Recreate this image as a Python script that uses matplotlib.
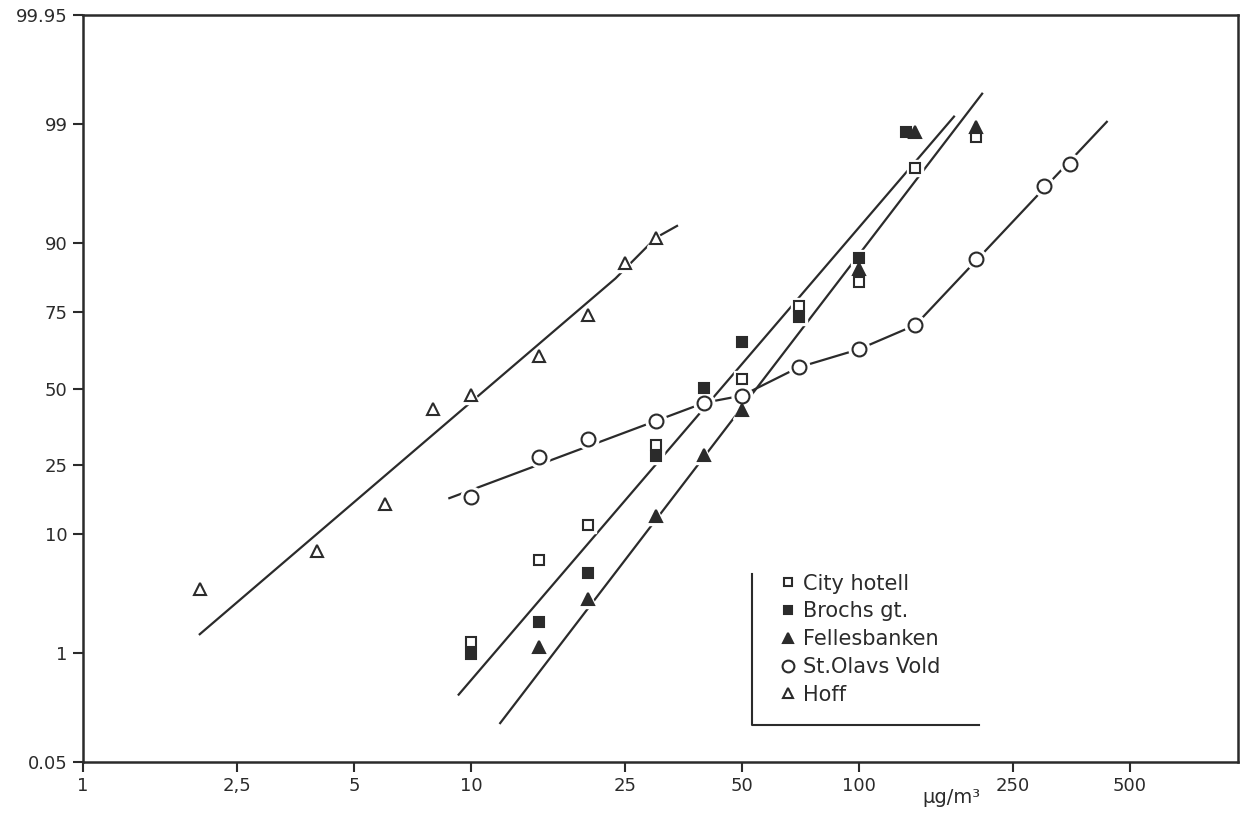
import math
from statistics import NormalDist
import numpy as np
import matplotlib
matplotlib.use("Agg")
import matplotlib.pyplot as plt

# values: concentration (ug/m3) and cumulative frequency (%)
city_x = [10, 15, 20, 30, 50, 70, 100, 140, 200]
city_p = [1.27, 6.5, 11.5, 30.9, 53.3, 76.6, 82.7, 97.4, 98.65]
brochs_x = [10, 15, 20, 30, 40, 50, 70, 100, 132]
brochs_p = [0.97, 2.0, 5.2, 27.6, 50.1, 65.8, 73.5, 87.4, 98.8]
felles_x = [15, 20, 30, 40, 50, 100, 140, 200]
felles_p = [1.15, 3.2, 13.1, 27.9, 42.5, 85.3, 98.8, 98.94]
olav_x = [10, 15, 20, 30, 40, 50, 70, 100, 140, 200, 300, 350]
olav_p = [17.0, 27.4, 32.7, 38.6, 45.0, 47.4, 57.4, 63.5, 71.2, 87.3, 96.3, 97.6]
hoff_x = [2, 4, 6, 8, 10, 15, 20, 25, 30]
hoff_p = [3.85, 7.6, 15.4, 42.8, 47.7, 61.3, 74.1, 86.5, 90.8]

# hand drawn fit lines
city_line_x = [9.3, 176]
city_line_p = [0.35, 99.17]
felles_line_x = [11.9, 208]
felles_line_p = [0.16, 99.53]
olav_line_x = [8.8, 40, 50, 70, 100, 140, 436]
olav_line_p = [16.7, 45.0, 47.5, 57.4, 63.5, 71.2, 99.06]
hoff_line_x = [2.0, 23.6, 30, 34]
hoff_line_p = [1.52, 83.4, 90.8, 92.4]

x_ticks = [1, 2.5, 5, 10, 25, 50, 100, 250, 500]
x_labels = ["1", "2,5", "5", "10", "25", "50", "100", "250", "500"]
y_ticks = [0.05, 1, 10, 25, 50, 75, 90, 99, 99.95]
y_labels = ["0.05", "1", "10", "25", "50", "75", "90", "99", "99.95"]

ink = "#2b2b2b"
nd = NormalDist()


# normal probability scale for the y axis
def prob_fwd(p):
    p = np.clip(np.asarray(p, dtype=float), 1e-7, 100 - 1e-7)
    return np.vectorize(nd.inv_cdf, otypes=[float])(p / 100.0)


def prob_inv(z):
    z = np.asarray(z, dtype=float)
    return np.vectorize(lambda v: 50.0 * (1 + math.erf(v / math.sqrt(2))), otypes=[float])(z)


plt.rcParams['font.family'] = ['DejaVu Sans']
fig = plt.figure(figsize=(12.41, 8.34), dpi=100)
ax = fig.add_axes([83 / 1241, 1 - 762 / 834, 1155 / 1241, 747 / 834])

ax.set_xscale('log')
ax.set_yscale('function', functions=(prob_fwd, prob_inv))
ax.set_xlim(1, 950)
ax.set_ylim(0.05, 99.95)

# lines
for lx, lp in [(city_line_x, city_line_p), (felles_line_x, felles_line_p),
               (olav_line_x, olav_line_p), (hoff_line_x, hoff_line_p)]:
    ax.plot(lx, lp, color=ink, lw=1.6, zorder=2)

series = [
    (city_x, city_p, 's', 'white', 7, "City hotell"),
    (brochs_x, brochs_p, 's', ink, 7, "Brochs gt."),
    (felles_x, felles_p, '^', ink, 8, "Fellesbanken"),
    (olav_x, olav_p, 'o', 'white', 10, "St.Olavs Vold"),
    (hoff_x, hoff_p, '^', 'white', 8, "Hoff"),
]

# white halo so the lines break around the markers
for sx, sp, m, fc, ms, lab in series:
    ax.plot(sx, sp, ls='none', marker=m, ms=ms + 5, mfc='white', mec='white', zorder=3)
handles = []
for sx, sp, m, fc, ms, lab in series:
    h, = ax.plot(sx, sp, ls='none', marker=m, ms=ms, mfc=fc, mec=ink, mew=1.5, zorder=4, label=lab)
    handles.append(h)

ax.set_xticks(x_ticks)
ax.set_xticklabels(x_labels)
ax.xaxis.set_minor_locator(matplotlib.ticker.NullLocator())
ax.set_yticks(y_ticks)
ax.set_yticklabels(y_labels)
ax.yaxis.set_minor_locator(matplotlib.ticker.NullLocator())
ax.tick_params(direction='out', length=7, width=1.5, colors=ink, labelsize=13, pad=4)
for s in ax.spines.values():
    s.set_linewidth(1.8)
    s.set_color(ink)

ax.set_xlabel("µg/m³", fontsize=14, color=ink)
ax.xaxis.set_label_coords(0.752, -0.035)

leg = ax.legend(handles=handles, loc='upper left', bbox_to_anchor=(0.605, 0.252),
                frameon=False, fontsize=15, handlelength=0.6, handletextpad=0.4,
                labelspacing=0.37, borderaxespad=0, borderpad=0, markerscale=0.85)
for t in leg.get_texts():
    t.set_color(ink)

# L-shaped frame around the legend
ax.plot([0.579, 0.579, 0.776], [0.252, 0.049, 0.049], transform=ax.transAxes,
        color=ink, lw=1.5, clip_on=False)

fig.savefig("out.png", dpi=100)
